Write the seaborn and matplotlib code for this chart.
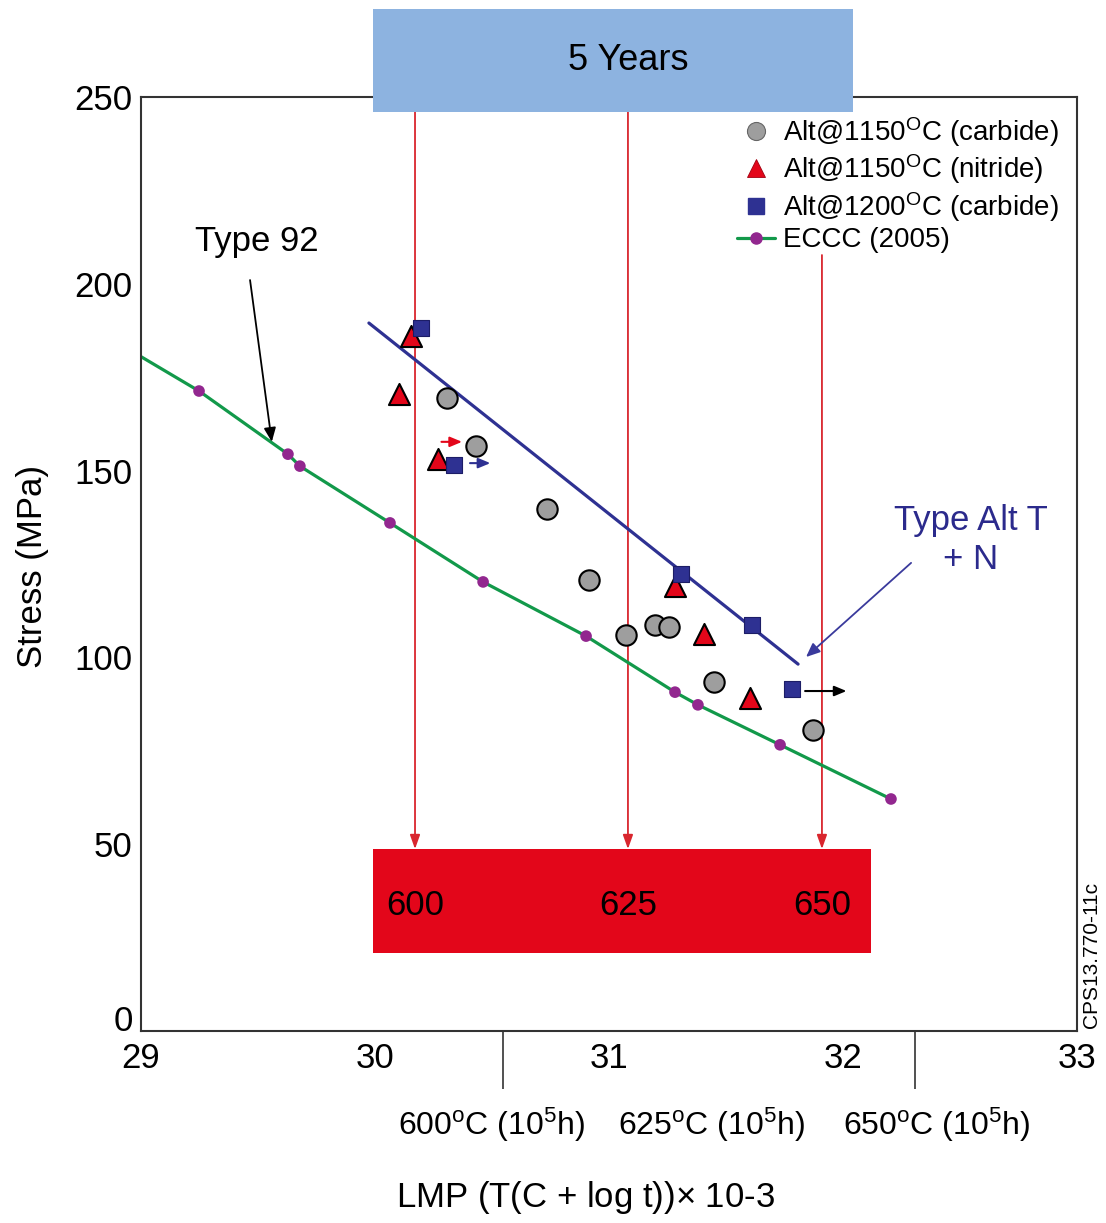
import matplotlib
matplotlib.use("Agg")
import matplotlib.pyplot as plt
from matplotlib.patches import Rectangle
from matplotlib.lines import Line2D
import seaborn as sns

sns.set_theme(style="white")
plt.rcParams['font.family'] = ['Liberation Sans', 'DejaVu Sans']
plt.rcParams['mathtext.fontset'] = 'custom'
plt.rcParams['mathtext.rm'] = 'Liberation Sans'
plt.rcParams['mathtext.it'] = 'Liberation Sans:italic'
plt.rcParams['mathtext.bf'] = 'Liberation Sans:bold'
plt.rcParams['text.color'] = 'black'
plt.rcParams['axes.labelcolor'] = 'black'
plt.rcParams['xtick.color'] = 'black'
plt.rcParams['ytick.color'] = 'black'

# ---------------- data ----------------
carbide1150_x = [30.308, 30.432, 30.735, 30.915, 31.073, 31.197, 31.256, 31.450, 31.871]
carbide1150_y = [169.4, 156.7, 139.7, 120.7, 106.0, 108.7, 108.1, 93.5, 80.6]

nitride1150_x = [30.154, 30.104, 30.271, 31.282, 31.407, 31.603]
nitride1150_y = [186.0, 170.5, 153.0, 119.1, 106.3, 89.1]

carbide1200_x = [30.197, 30.339, 31.308, 31.610, 31.783]
carbide1200_y = [188.1, 151.5, 122.3, 108.7, 91.5]

eccc_line_x = [29.0, 29.248, 29.628, 29.679, 30.064, 30.462, 30.902, 31.282, 31.380, 31.731, 32.205]
eccc_line_y = [180.5, 171.3, 154.4, 151.2, 136.0, 120.2, 105.7, 90.7, 87.3, 76.6, 62.1]
eccc_dot_x = eccc_line_x[1:]
eccc_dot_y = eccc_line_y[1:]

alt_fit_x = [29.974, 31.808]
alt_fit_y = [189.5, 98.2]

temps_lmp_x = [30.171, 31.081, 31.910]          # 600 / 625 / 650 C at 5 years
temps_labels = ["600", "625", "650"]
temps_arrow_top = [246.0, 246.0, 207.7]

lmp_1e5h_ticks = [30.547, 32.308]
lmp_1e5h_label_x = [30.50, 31.44, 32.40]
lmp_1e5h_labels = [r"600$^{\mathrm{o}}$C (10$^{5}$h)",
                   r"625$^{\mathrm{o}}$C (10$^{5}$h)",
                   r"650$^{\mathrm{o}}$C (10$^{5}$h)"]

legend_labels = [r"Alt@1150$^{\mathrm{O}}$C (carbide)",
                 r"Alt@1150$^{\mathrm{O}}$C (nitride)",
                 r"Alt@1200$^{\mathrm{O}}$C (carbide)",
                 "ECCC (2005)"]

x_ticks = [29, 30, 31, 32, 33]
y_ticks = [0, 50, 100, 150, 200, 250]

# ---------------- colours ----------------
GRAY = '#9e9e9e'
RED = '#e3061a'
NAVY = '#2e3192'
GREEN = '#12994a'
MAGENTA = '#92278f'
BLUEBOX = '#8db3e0'
ARROWRED = '#d9262e'

fig = plt.figure(figsize=(11.06, 12.23), dpi=100)
ax = fig.add_axes([141/1106, 1 - 1031/1223, 936/1106, 934/1223])

# ECCC line + dots
sns.lineplot(x=eccc_line_x, y=eccc_line_y, ax=ax, color=GREEN, linewidth=2.3, sort=False, zorder=2)
sns.scatterplot(x=eccc_dot_x, y=eccc_dot_y, ax=ax, color=MAGENTA, s=70, edgecolor='none', zorder=3)

# Alt T + N fit line
sns.lineplot(x=alt_fit_x, y=alt_fit_y, ax=ax, color=NAVY, linewidth=2.3, zorder=2)

# data markers
sns.scatterplot(x=carbide1150_x, y=carbide1150_y, ax=ax, marker='o', s=215,
                color=GRAY, edgecolor='black', linewidth=1.5, zorder=4)
sns.scatterplot(x=nitride1150_x, y=nitride1150_y, ax=ax, marker='^', s=230,
                color=RED, edgecolor='black', linewidth=1.5, zorder=4)
sns.scatterplot(x=carbide1200_x, y=carbide1200_y, ax=ax, marker='s', s=140,
                color=NAVY, edgecolor='#1c1d66', linewidth=0.8, zorder=5)

ax.set_xlim(29, 33)
ax.set_ylim(0, 250)
ax.set_xticks(x_ticks)
ax.set_yticks(y_ticks)
ax.set_xticks(lmp_1e5h_ticks, minor=True)
ax.tick_params(axis='both', which='major', direction='in', length=15, width=1.3,
               labelsize=25, color='#333333', pad=6)
ax.tick_params(axis='x', which='major', pad=8)
ax.tick_params(axis='x', which='minor', direction='out', length=42, width=1.2,
               color='#333333', bottom=True)
for sp in ax.spines.values():
    sp.set_linewidth(1.5)
    sp.set_color('#333333')
ax.grid(False)
# the "0" label sits just above the corner, as in the reference
ax.get_yticklabels()[0].set_va('baseline')

ax.set_ylabel("Stress (MPa)", fontsize=25)
ax.yaxis.set_label_coords(-0.1155, 0.497)
ax.yaxis.label.set_va('center')
ax.set_xlabel(r"LMP (T(C + log t))$\times$ 10-3", fontsize=25)
ax.xaxis.set_label_coords(0.475, -0.178)
ax.xaxis.label.set_va('center')

for xl, lab in zip(lmp_1e5h_label_x, lmp_1e5h_labels):
    ax.text(xl, -0.1006, lab, transform=ax.get_xaxis_transform(), ha='center', va='center',
            fontsize=23, clip_on=False)

# top blue box
ax.add_patch(Rectangle((29.991, 246.0), 2.052, 27.6, facecolor=BLUEBOX, edgecolor='none',
                       clip_on=False, zorder=6))
ax.text(temps_lmp_x[1], 259.9, "5 Years", ha='center', va='center', fontsize=26, zorder=7,
        clip_on=False)

# bottom red box
ax.add_patch(Rectangle((29.991, 20.96), 2.129, 27.74, facecolor=RED, edgecolor='none',
                       clip_on=False, zorder=6))
for xv, lab, ytop in zip(temps_lmp_x, temps_labels, temps_arrow_top):
    ax.text(xv, 33.7, lab, ha='center', va='center', fontsize=25, zorder=7)
    ax.annotate("", xy=(xv, 48.7), xytext=(xv, ytop),
                arrowprops=dict(arrowstyle='-|>,head_length=0.7,head_width=0.25',
                                color=ARROWRED, lw=1.3, shrinkA=0, shrinkB=0), zorder=1)

# small arrows
ax.annotate("", xy=(30.372, 157.7), xytext=(30.284, 157.7),
            arrowprops=dict(arrowstyle='-|>,head_length=0.6,head_width=0.25', color=RED, lw=1.5,
                            shrinkA=0, shrinkB=0))
ax.annotate("", xy=(30.493, 152.0), xytext=(30.406, 152.0),
            arrowprops=dict(arrowstyle='-|>,head_length=0.6,head_width=0.25', color=NAVY, lw=1.5,
                            shrinkA=0, shrinkB=0))
ax.annotate("", xy=(32.015, 91.0), xytext=(31.838, 91.0),
            arrowprops=dict(arrowstyle='-|>,head_length=0.6,head_width=0.25', color='black', lw=1.5,
                            shrinkA=0, shrinkB=0))

# Type 92 annotation
ax.text(29.496, 211.2, "Type 92", ha='center', va='center', fontsize=25)
ax.annotate("", xy=(29.559, 157.7), xytext=(29.466, 201.0),
            arrowprops=dict(arrowstyle='-|>,head_length=0.7,head_width=0.3', color='black', lw=1.3,
                            shrinkA=0, shrinkB=0))

# Type Alt T + N annotation
ax.text(32.545, 131.4, "Type Alt T\n+ N", ha='center', va='center', fontsize=25,
        color='#2b2a8c', linespacing=1.25)
ax.annotate("", xy=(31.842, 100.1), xytext=(32.291, 125.3),
            arrowprops=dict(arrowstyle='-|>,head_length=0.7,head_width=0.3', color='#3a3a9c', lw=1.3,
                            shrinkA=0, shrinkB=0))

# legend
handles = [
    Line2D([], [], linestyle='none', marker='o', markersize=13, markerfacecolor=GRAY,
           markeredgecolor='#666666', markeredgewidth=0.8),
    Line2D([], [], linestyle='none', marker='^', markersize=13, markerfacecolor=RED,
           markeredgecolor='#a00010', markeredgewidth=0.6),
    Line2D([], [], linestyle='none', marker='s', markersize=12, markerfacecolor=NAVY,
           markeredgecolor=NAVY),
    Line2D([], [], color=GREEN, linewidth=2.3, marker='o', markersize=8,
           markerfacecolor=MAGENTA, markeredgecolor=MAGENTA),
]
ax.legend(handles, legend_labels, loc='upper left', bbox_to_anchor=((737 - 141) / 936, (1031 - 115) / 934),
          frameon=False, fontsize=20, handlelength=1.35, handletextpad=0.3, labelspacing=0.13,
          borderpad=0, borderaxespad=0)

# side code
fig.text(1092 / 1106, 1 - 955 / 1223, "CPS13.770-11c", rotation=90, ha='center', va='center',
         fontsize=15)

fig.savefig("out.png", dpi=100)
